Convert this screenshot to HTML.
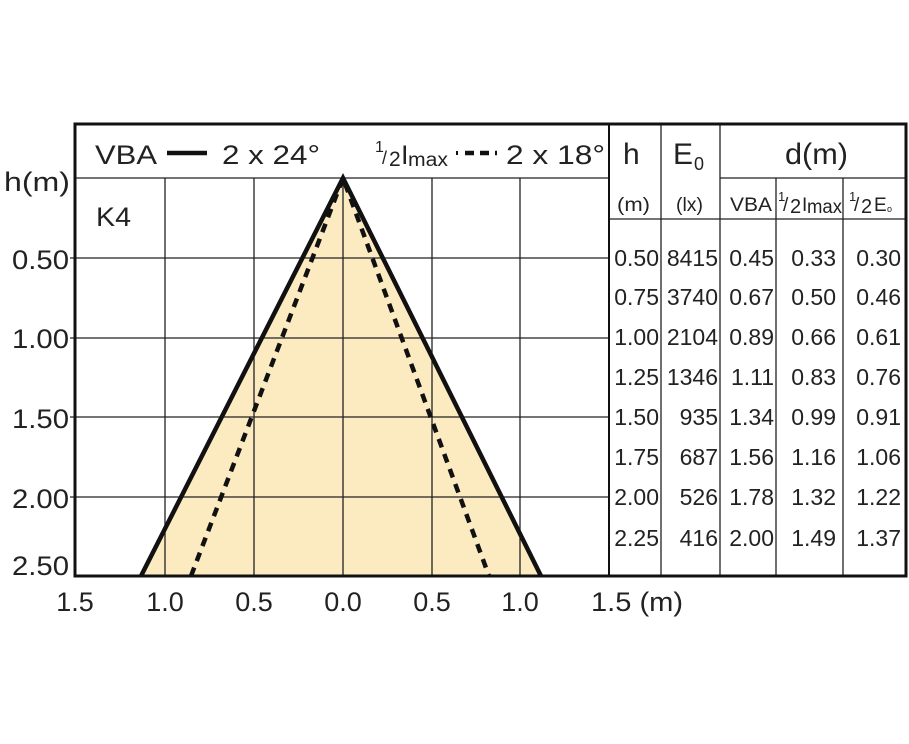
<!DOCTYPE html>
<html><head><meta charset="utf-8"><style>
html,body{margin:0;padding:0;background:#fff;}
svg{display:block;font-family:"Liberation Sans",Arial,sans-serif;}
</style></head><body>
<svg width="909" height="744" viewBox="0 0 909 744" xmlns="http://www.w3.org/2000/svg">
<rect width="909" height="744" fill="#fff"/>
<polygon points="343,178 141,576 541,576" fill="#fcebc0"/>
<g stroke="#222" stroke-width="1.3">
<line x1="165" y1="178" x2="165" y2="576"/>
<line x1="254" y1="178" x2="254" y2="576"/>
<line x1="343" y1="178" x2="343" y2="576"/>
<line x1="432" y1="178" x2="432" y2="576"/>
<line x1="520" y1="178" x2="520" y2="576"/>
<line x1="70" y1="258" x2="609" y2="258"/>
<line x1="70" y1="338" x2="609" y2="338"/>
<line x1="70" y1="417" x2="609" y2="417"/>
<line x1="70" y1="497" x2="609" y2="497"/>
<line x1="75" y1="178" x2="609" y2="178"/>
<line x1="661" y1="124" x2="661" y2="576"/>
<line x1="720" y1="124" x2="720" y2="576"/>
<line x1="776" y1="178" x2="776" y2="576"/>
<line x1="843" y1="178" x2="843" y2="576"/>
<line x1="720" y1="178" x2="906" y2="178"/>
<line x1="609" y1="219" x2="906" y2="219"/>
</g>
<g stroke="#111" stroke-width="3" fill="none">
<rect x="75" y="124" width="831" height="452"/>
<line x1="609" y1="124" x2="609" y2="576" stroke-width="2"/>
</g>
<polyline points="141,576 343,178 541,576" fill="none" stroke="#111" stroke-width="4.5"/>
<polyline points="191,576 343,178 489,576" fill="none" stroke="#111" stroke-width="4.5" stroke-dasharray="9,7"/>
<g fill="#222" font-size="27">
<text x="95" y="164" textLength="62" lengthAdjust="spacingAndGlyphs">VBA</text>
<line x1="167" y1="153" x2="207" y2="153" stroke="#111" stroke-width="4.5"/>
<text x="222" y="164" textLength="98" lengthAdjust="spacingAndGlyphs">2 x 24°</text>
<text x="375" y="152" font-size="16">1</text>
<text x="382" y="164" font-size="18">/</text>
<text x="389" y="166" font-size="21">2</text>
<text x="401" y="164">I</text>
<text x="408" y="166" font-size="19" textLength="40" lengthAdjust="spacingAndGlyphs">max</text>
<line x1="456" y1="153" x2="458" y2="153" stroke="#111" stroke-width="4"/>
<line x1="465" y1="153" x2="497" y2="153" stroke="#111" stroke-width="4.5" stroke-dasharray="9,6"/>
<text x="506" y="164" textLength="99" lengthAdjust="spacingAndGlyphs">2 x 18°</text>
<text x="96" y="226" textLength="35" lengthAdjust="spacingAndGlyphs">K4</text>
<text x="4" y="191" textLength="66" lengthAdjust="spacingAndGlyphs">h(m)</text>
<g text-anchor="end">
<text x="69" y="269" textLength="57" lengthAdjust="spacingAndGlyphs">0.50</text>
<text x="69" y="348" textLength="57" lengthAdjust="spacingAndGlyphs">1.00</text>
<text x="69" y="428" textLength="57" lengthAdjust="spacingAndGlyphs">1.50</text>
<text x="69" y="508" textLength="57" lengthAdjust="spacingAndGlyphs">2.00</text>
<text x="69" y="575" textLength="57" lengthAdjust="spacingAndGlyphs">2.50</text>
</g>
<g text-anchor="middle">
<text x="75" y="611">1.5</text>
<text x="165" y="611">1.0</text>
<text x="254" y="611">0.5</text>
<text x="343" y="611">0.0</text>
<text x="432" y="611">0.5</text>
<text x="520" y="611">1.0</text>
</g>
<text x="591" y="611" textLength="92" lengthAdjust="spacingAndGlyphs">1.5 (m)</text>
<text x="623" y="164" font-size="30">h</text>
<text x="673" y="164" font-size="30">E</text>
<text x="694" y="170" font-size="18">0</text>
<text x="785" y="164" font-size="30" textLength="63" lengthAdjust="spacingAndGlyphs">d(m)</text>
<g font-size="19">
<text x="617" y="211" textLength="33" lengthAdjust="spacingAndGlyphs">(m)</text>
<text x="676" y="211" textLength="27" lengthAdjust="spacingAndGlyphs">(lx)</text>
<text x="730" y="211" textLength="42" lengthAdjust="spacingAndGlyphs">VBA</text>
<text x="778" y="201" font-size="13">1</text>
<text x="783" y="211">/</text>
<text x="790" y="213" font-size="20">2</text>
<text x="802" y="211">I</text>
<text x="807" y="213" textLength="35" lengthAdjust="spacingAndGlyphs">max</text>
<text x="849" y="201" font-size="13">1</text>
<text x="854" y="211">/</text>
<text x="861" y="213" font-size="20">2</text>
<text x="874" y="211">E</text>
<text x="887" y="212" font-size="9">o</text>
</g>
</g>
<g fill="#222" font-size="23">
<g text-anchor="end">
<text x="659" y="266">0.50</text><text x="718" y="266">8415</text><text x="774" y="266">0.45</text><text x="836" y="266">0.33</text><text x="901" y="266">0.30</text>
<text x="659" y="305">0.75</text><text x="718" y="305">3740</text><text x="774" y="305">0.67</text><text x="836" y="305">0.50</text><text x="901" y="305">0.46</text>
<text x="659" y="345">1.00</text><text x="718" y="345">2104</text><text x="774" y="345">0.89</text><text x="836" y="345">0.66</text><text x="901" y="345">0.61</text>
<text x="659" y="385">1.25</text><text x="718" y="385">1346</text><text x="774" y="385">1.11</text><text x="836" y="385">0.83</text><text x="901" y="385">0.76</text>
<text x="659" y="425">1.50</text><text x="718" y="425">935</text><text x="774" y="425">1.34</text><text x="836" y="425">0.99</text><text x="901" y="425">0.91</text>
<text x="659" y="465">1.75</text><text x="718" y="465">687</text><text x="774" y="465">1.56</text><text x="836" y="465">1.16</text><text x="901" y="465">1.06</text>
<text x="659" y="505">2.00</text><text x="718" y="505">526</text><text x="774" y="505">1.78</text><text x="836" y="505">1.32</text><text x="901" y="505">1.22</text>
<text x="659" y="546">2.25</text><text x="718" y="546">416</text><text x="774" y="546">2.00</text><text x="836" y="546">1.49</text><text x="901" y="546">1.37</text>
</g>
</g>
</svg>
</body></html>
